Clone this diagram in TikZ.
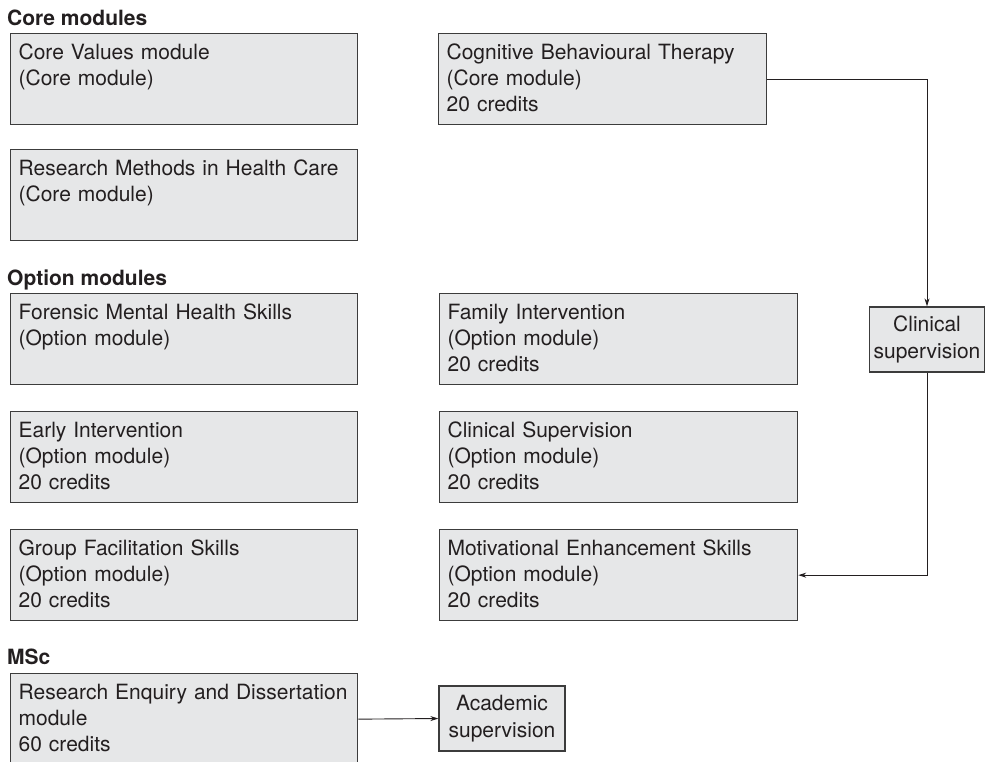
\documentclass[tikz,border=0pt]{standalone}
\usepackage{fontspec}
\setmainfont{TeX Gyre Heros}
\usetikzlibrary{arrows.meta}
\definecolor{boxfill}{HTML}{E6E7E8}
\definecolor{boxline}{HTML}{3C3C3C}
\definecolor{ink}{HTML}{231F20}
\newcommand{\bodysize}{\fontsize{21}{26}\selectfont}

\begin{document}
\begin{tikzpicture}[x=1pt,y=-1pt,
  every node/.style={text=ink},
  heading/.style={anchor=base west, inner sep=0pt, font=\bodysize\bfseries},
  module/.style={draw=boxline, fill=boxfill, line width=1.3pt, anchor=north west,
    inner xsep=8pt, inner ysep=0pt, minimum height=91pt, text width=#1,
    align=left, font=\bodysize,
    execute at begin node=\rule{0pt}{21pt}, execute at end node=\strut},
  supbox/.style={draw=boxline, fill=boxfill, line width=1.3pt, inner sep=0pt,
    minimum height=65pt, minimum width=#1, align=center,
    font=\fontsize{21}{27}\selectfont},
  link/.style={draw=ink, line width=0.9pt, -{Stealth[length=8pt,width=5pt]}}]

\useasboundingbox (0,0) rectangle (988,761);

% Core modules
\node[heading] (hcore) at (7,25) {Core modules};
\node[module=331pt] (values) at (10,33) {Core Values module\\(Core module)\\};
\node[module=312pt] (cbt) at (438,33) {Cognitive Behavioural Therapy\\(Core module)\\20 credits};
\node[module=331pt] (methods) at (10,149) {Research Methods in Health Care\\(Core module)\\};

% Option modules
\node[heading] (hopt) at (7,285) {Option modules};
\node[module=331pt] (forensic) at (10,293) {Forensic Mental Health Skills\\(Option module)\\};
\node[module=342pt] (family) at (439,293) {Family Intervention\\(Option module)\\20 credits};
\node[module=331pt] (early) at (10,411) {Early Intervention\\(Option module)\\20 credits};
\node[module=342pt] (clinsup) at (439,411) {Clinical Supervision\\(Option module)\\20 credits};
\node[module=331pt] (group) at (10,529) {Group Facilitation Skills\\(Option module)\\20 credits};
\node[module=342pt] (motiv) at (439,529) {Motivational Enhancement Skills\\(Option module)\\20 credits};

% MSc
\node[heading] (hmsc) at (7,664) {MSc};
\node[module=331pt] (enquiry) at (10,673) {Research Enquiry and Dissertation\\module\\60 credits};

% Supervision
\node[supbox=115pt] (clin) at (927,339.5) {Clinical\\supervision};
\node[supbox=126pt] (acad) at (502,718.5) {Academic\\supervision};

\draw[link] (cbt.east) -| (clin.north);
\draw[link] (clin.south) |- (motiv.east);
\draw[link] (enquiry.east) -- (acad.west);
\end{tikzpicture}
\end{document}
